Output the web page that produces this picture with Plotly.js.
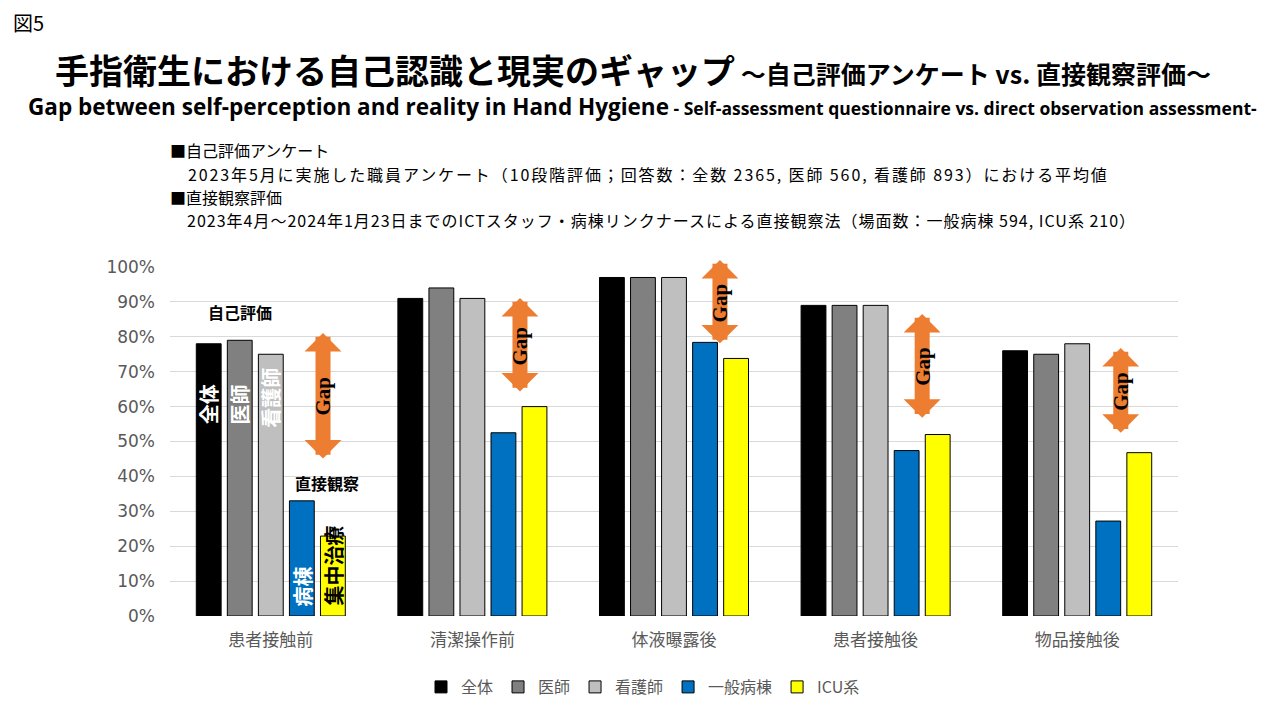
<!DOCTYPE html>
<html>
<head>
<meta charset="utf-8">
<script src="https://cdn.plot.ly/plotly-3.0.1.min.js"></script>
<style>html,body{margin:0;padding:0;background:#fff;}#chart{width:1280px;height:720px;}</style>
</head>
<body>
<div id="chart"></div>
<script>
// ---- data ----
const categories = ["患者接触前", "清潔操作前", "体液曝露後", "患者接触後", "物品接触後"];
const seriesNames = ["全体", "医師", "看護師", "一般病棟", "ICU系"];
const zentai   = [78, 91, 97, 89, 76];
const ishi     = [79, 94, 97, 89, 75];
const kangoshi = [75, 91, 97, 89, 78];
const ippan    = [33, 52.5, 78.4, 47.4, 27.2];
const icu      = [22.9, 60, 73.8, 52, 46.8];
const seriesValues = [zentai, ishi, kangoshi, ippan, icu];
const yTickVals = [0,10,20,30,40,50,60,70,80,90,100];
const yTickText = yTickVals.map(v => v + "%");

// gap arrows: [category index, top %, bottom %]
const gapCat = [0, 1, 2, 3, 4];
const gapTop = [81.1, 91.1, 102.0, 86.5, 76.8];
const gapBottom = [44.7, 63.9, 77.7, 56.4, 52.1];

// ---- styles / positions ----
const colors = ["#000000", "#808080", "#BFBFBF", "#0070C0", "#FFFF00"];
const gapOffset = [0.259, 0.236, 0.228, 0.231, 0.216];
const JP = "'Noto Sans CJK JP', 'Noto Sans', sans-serif";

const traces = seriesNames.map((name, i) => ({
  type: "bar",
  name: name,
  x: categories,
  y: seriesValues[i],
  marker: {color: colors[i], line: {color: "#000000", width: 1}},
  hoverinfo: "none"
}));

// pixel -> paper helpers for page-level text
const L = 170, R = 1178, T = 267, B = 616;
function px(x){ return (x - L) / (R - L); }
function py(y){ return (B - y) / (B - T); }

const ann = [];
function pageText(text, x, y, size, opts) {
  ann.push(Object.assign({
    xref: "paper", yref: "paper", x: px(x), y: py(y),
    xanchor: "left", yanchor: "middle", showarrow: false, text: text, align: "left",
    font: {family: JP, size: size, color: "#000000"}
  }, opts || {}));
}
pageText("図5", 11, 22, 20);
pageText(
  "<span style='font-size:27px'>　</span><span style='font-size:34px'><b>手指衛生における自己認識と現実のギャップ</b></span><span style='font-size:25px'><b> ～自己評価アンケート vs. 直接観察評価～</b></span>" +
  "<br><span style=\"font-family:'Open Sans';font-size:22.5px\"><b>Gap between self-perception and reality in Hand Hygiene</b></span>" +
  "<span style=\"font-family:'Open Sans';font-size:17.5px\"><b> - Self-assessment questionnaire vs. direct observation assessment-</b></span>",
  26, 84, 24, {});
const noteStyle = "letter-spacing:1.9px";
pageText("■自己評価アンケート", 168, 150, 16);
pageText("<span style='" + noteStyle + "'>　2023年5月に実施した職員アンケート（10段階評価；回答数：全数 2365, 医師 560, 看護師 893）における平均値</span>", 168, 173.5, 16);
pageText("■直接観察評価", 168, 197, 16);
pageText("<span style='letter-spacing:1px'>　2023年4月～2024年1月23日までのICTスタッフ・病棟リンクナースによる直接観察法（場面数：一般病棟 594, ICU系 210）</span>", 168, 220.5, 16);

// Gap arrows
gapCat.forEach((c, i) => {
  const xx = c + gapOffset[i];
  ann.push({
    xref: "x", yref: "y", axref: "x", ayref: "y",
    x: xx, y: gapTop[i], ax: xx, ay: gapBottom[i],
    text: "", showarrow: true, arrowside: "end+start",
    arrowhead: 1, startarrowhead: 1, arrowwidth: 15,
    arrowsize: 0.41, startarrowsize: 0.41, arrowcolor: "#ED7D31", standoff: 0, startstandoff: 0
  });
  ann.push({
    xref: "x", yref: "y", x: xx, y: (gapTop[i] + gapBottom[i]) / 2,
    text: "<b>Gap</b>", textangle: -90, showarrow: false,
    font: {family: "'Liberation Serif', serif", size: 21, color: "#000000"}
  });
});

// in-bar labels for first group
const barOff = [-0.309, -0.155, 0, 0.155, 0.309];
function barLabel(text, s, yv, color) {
  ann.push({xref: "x", yref: "y", x: barOff[s], y: yv, text: "<b>" + text + "</b>",
    textangle: -90, showarrow: false, font: {family: JP, size: 20, color: color}});
}
barLabel("全体", 0, 60.5, "#FFFFFF");
barLabel("医師", 1, 60.5, "#FFFFFF");
barLabel("看護師", 2, 62.5, "#FFFFFF");
barLabel("病棟", 3, 8.5, "#FFFFFF");
barLabel("集中治療", 4, 14.5, "#000000");
ann.push({xref: "x", yref: "y", x: -0.153, y: 87.1, text: "<b>自己評価</b>", showarrow: false,
  font: {family: JP, size: 16, color: "#000000"}});
ann.push({xref: "x", yref: "y", x: 0.28, y: 38.1, text: "<b>直接観察</b>", showarrow: false,
  font: {family: JP, size: 16, color: "#000000"}});

const layout = {
  width: 1280, height: 720,
  margin: {l: L, r: 1280 - R, t: T, b: 720 - B},
  paper_bgcolor: "#FFFFFF", plot_bgcolor: "#FFFFFF",
  barmode: "group", bargap: 0.23, bargroupgap: 0.2,
  showlegend: true,
  legend: {orientation: "h", x: px(643), xanchor: "center", y: py(687), yanchor: "middle",
    font: {family: JP, size: 16, color: "#595959"}, itemwidth: 30, traceorder: "normal"},
  xaxis: {type: "category", showgrid: false, showline: false, zeroline: false, ticks: "",
    tickfont: {family: JP, size: 17, color: "#595959"}, ticklabelstandoff: 12},
  yaxis: {range: [0, 100], tickvals: yTickVals, ticktext: yTickText, showgrid: true,
    gridcolor: "#D9D9D9", gridwidth: 1, zeroline: false, showline: false, ticks: "",
    tickfont: {family: "'DejaVu Sans', sans-serif", size: 17, color: "#595959"}, ticklabelstandoff: 14},
  annotations: ann,
  font: {family: JP}
};

Plotly.newPlot("chart", traces, layout, {displayModeBar: false, staticPlot: true});
</script>
</body>
</html>
